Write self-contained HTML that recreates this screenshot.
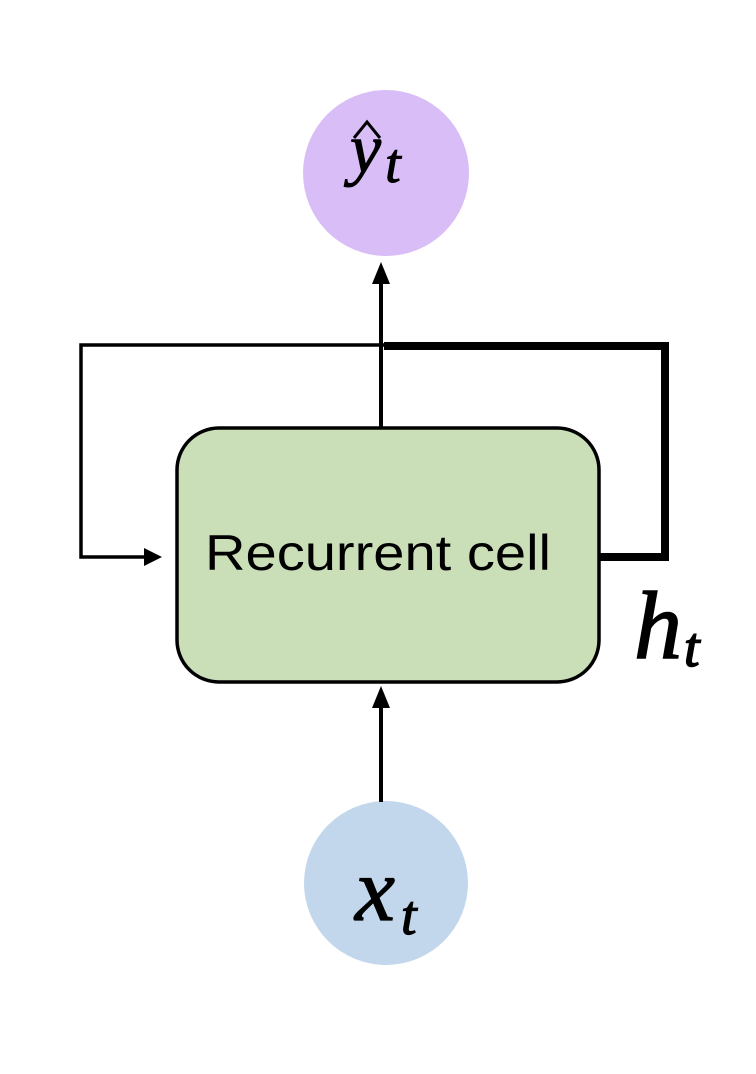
<!DOCTYPE html>
<html><head><meta charset="utf-8"><style>
html,body{margin:0;padding:0;background:#fff;}
svg{display:block;}
</style></head><body>
<svg width="756" height="1074" viewBox="0 0 756 1074">
<rect width="756" height="1074" fill="#fff"/>
<circle cx="386" cy="173" r="83" fill="#d9bdf6"/>
<text x="350" y="172" font-family="Liberation Serif, serif" font-style="italic" font-size="70" fill="#000" stroke="#000" stroke-width="1">y<tspan font-size="56" dx="4" dy="10">t</tspan></text>
<path d="M354 138 L367 122 L380 138" fill="none" stroke="#000" stroke-width="3"/>
<circle cx="386" cy="883" r="82" fill="#c3d7ec"/>
<text x="355" y="920" font-family="Liberation Serif, serif" font-style="italic" font-size="90" fill="#000" stroke="#000" stroke-width="1.2">x<tspan font-size="56" dx="6" dy="14">t</tspan></text>
<path d="M386 345 H81 V557 H150" fill="none" stroke="#000" stroke-width="3.5"/>
<polygon points="162,557 144,548 144,566" fill="#000"/>
<path d="M384 346 H665 V557 H600" fill="none" stroke="#000" stroke-width="8"/>
<line x1="381" y1="430" x2="381" y2="278" stroke="#000" stroke-width="4"/>
<polygon points="381,262 372,284 390,284" fill="#000"/>
<line x1="381" y1="802" x2="381" y2="702" stroke="#000" stroke-width="4"/>
<polygon points="381,686 372,708 390,708" fill="#000"/>
<rect x="177" y="428" width="422" height="254" rx="42" fill="#cadfb8" stroke="#000" stroke-width="3.5"/>
<text x="378" y="570" text-anchor="middle" font-family="Liberation Sans, Arial, sans-serif" font-size="50" textLength="346" lengthAdjust="spacingAndGlyphs" fill="#000">Recurrent cell</text>
<text x="634" y="658" font-family="Liberation Serif, serif" font-style="italic" font-size="96" fill="#000" stroke="#000" stroke-width="1.5">h<tspan font-size="56" dx="2" dy="8">t</tspan></text>
</svg>
</body></html>
